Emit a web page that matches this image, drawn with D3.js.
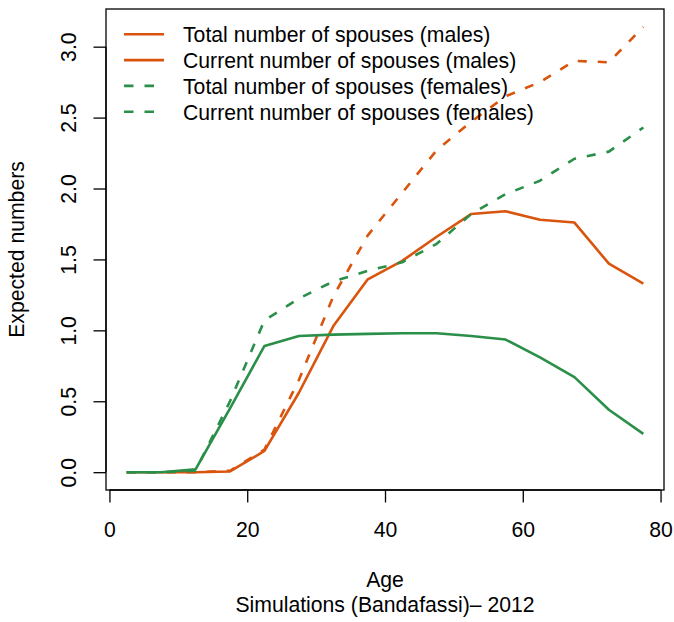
<!DOCTYPE html>
<html>
<head>
<meta charset="utf-8">
<script src="https://cdn.jsdelivr.net/npm/d3@7"></script>
<style>
  body { margin: 0; background: #fff; }
  svg { display: block; font-family: "Liberation Sans", Arial, Helvetica, sans-serif; }
</style>
</head>
<body>
<svg width="674" height="622"></svg>
<script>
let width = 674;
let height = 622;

// age groups (midpoints)
let ages = [2.5, 7.5, 12.5, 17.5, 22.5, 27.5, 32.5, 37.5, 42.5, 47.5, 52.5, 57.5, 62.5, 67.5, 72.5, 77.5];

let malesTotal   = [0, 0, 0, 0.01, 0.16, 0.65, 1.24, 1.67, 1.97, 2.27, 2.47, 2.65, 2.75, 2.90, 2.89, 3.14];
let malesCurrent = [0, 0, 0, 0.005, 0.15, 0.56, 1.03, 1.36, 1.49, 1.66, 1.82, 1.84, 1.78, 1.76, 1.47, 1.33];
let femalesTotal   = [0, 0, 0.01, 0.50, 1.07, 1.225, 1.345, 1.42, 1.48, 1.61, 1.82, 1.96, 2.055, 2.21, 2.26, 2.43];
let femalesCurrent = [0, 0, 0.02, 0.45, 0.89, 0.96, 0.97, 0.975, 0.98, 0.98, 0.96, 0.935, 0.81, 0.67, 0.44, 0.27];

let xTicks = [0, 20, 40, 60, 80];
let yTicks = [0, 0.5, 1, 1.5, 2, 2.5, 3];

let legendLabels = [
  'Total number of spouses (males)',
  'Current number of spouses (males)',
  'Total number of spouses (females)',
  'Current number of spouses (females)'
];

let orange = '#d9540c';
let green = '#2a8f48';

let plotL = 106, plotR = 664, plotT = 9, plotB = 490;

// R style 4% padding around the data range
let xExt = d3.extent(ages);
let xPad = (xExt[1] - xExt[0]) * 0.04;
let yMax = d3.max(malesTotal);
let yPad = yMax * 0.04;

let x = d3.scaleLinear().domain([xExt[0] - xPad, xExt[1] + xPad]).range([plotL, plotR]);
let y = d3.scaleLinear().domain([-yPad, yMax + yPad]).range([plotB, plotT]);

let svg = d3.select('svg');
let fs = 21.2;
let lineH = 25;

// series, drawn in this order
let series = [
  { values: malesTotal, color: orange, dash: '9,11' },
  { values: malesCurrent, color: orange, dash: null },
  { values: femalesTotal, color: green, dash: '9,11' },
  { values: femalesCurrent, color: green, dash: null }
];

let line = d3.line()
  .x((d, i) => x(ages[i]))
  .y(d => y(d));

svg.append('g')
  .selectAll('path')
  .data(series)
  .enter()
    .append('path')
    .attr('d', d => line(d.values))
    .attr('fill', 'none')
    .attr('stroke', d => d.color)
    .attr('stroke-width', 2.6)
    .attr('stroke-linejoin', 'round')
    .attr('stroke-dasharray', d => d.dash)
  ;

// box
svg.append('rect')
  .attr('x', plotL)
  .attr('y', plotT)
  .attr('width', plotR - plotL)
  .attr('height', plotB - plotT)
  .attr('fill', 'none')
  .attr('stroke', '#000')
  .attr('stroke-width', 1.3)
  ;

// x axis
let xAxis = svg.append('g').attr('transform', `translate(0,${plotB})`)
  .call(d3.axisBottom(x).tickValues(xTicks).tickSize(12.5).tickPadding(0).tickFormat(d3.format('d')));
xAxis.select('.domain').attr('d', `M${x(0)},0H${x(80)}`).attr('stroke-width', 1.3);
xAxis.selectAll('.tick line').attr('stroke-width', 1.3);
xAxis.selectAll('.tick text')
  .attr('y', 47)
  .attr('dy', null)
  .attr('font-size', fs)
  .attr('font-family', null)
  .attr('fill', '#000');

// y axis, labels rotated like R's las = 0
let yAxis = svg.append('g').attr('transform', `translate(${plotL},0)`)
  .call(d3.axisLeft(y).tickValues(yTicks).tickSize(12.5).tickFormat(d3.format('.1f')));
yAxis.select('.domain').attr('d', `M0,${y(0)}V${y(3)}`).attr('stroke-width', 1.3);
yAxis.selectAll('.tick line').attr('stroke-width', 1.3);
yAxis.selectAll('.tick text')
  .attr('x', null)
  .attr('dy', null)
  .attr('transform', 'translate(-30,0) rotate(-90)')
  .attr('text-anchor', 'middle')
  .attr('font-size', fs)
  .attr('font-family', null)
  .attr('fill', '#000');

svg.selectAll('.tick line').attr('stroke', '#000');
svg.selectAll('.domain').attr('stroke', '#000');

// titles
svg.append('text')
  .attr('x', (plotL + plotR) / 2)
  .attr('y', 537 + 2 * lineH)
  .attr('text-anchor', 'middle')
  .attr('font-size', fs)
  .text('Age');

svg.append('text')
  .attr('x', (plotL + plotR) / 2)
  .attr('y', 537 + 3 * lineH)
  .attr('text-anchor', 'middle')
  .attr('font-size', fs)
  .text('Simulations (Bandafassi)\u2013 2012');

svg.append('text')
  .attr('transform', `translate(24,${(plotT + plotB) / 2}) rotate(-90)`)
  .attr('text-anchor', 'middle')
  .attr('font-size', fs)
  .text('Expected numbers');

// legend (colours and line types as in the original)
let legendStyle = [
  { color: orange, dash: null },
  { color: orange, dash: null },
  { color: green, dash: '9.5,11' },
  { color: green, dash: '9.5,11' }
];

let legend = svg.append('g')
  .selectAll('g')
  .data(legendLabels)
  .enter()
    .append('g')
    .attr('transform', (d, i) => `translate(124,${34.3 + i * 25.8})`)
  ;

legend.append('line')
  .attr('x1', 0)
  .attr('x2', 40)
  .attr('stroke', (d, i) => legendStyle[i].color)
  .attr('stroke-width', 2.6)
  .attr('stroke-dasharray', (d, i) => legendStyle[i].dash);

legend.append('text')
  .attr('x', 59)
  .attr('y', 8)
  .attr('font-size', fs)
  .text(d => d);
</script>
</body>
</html>
